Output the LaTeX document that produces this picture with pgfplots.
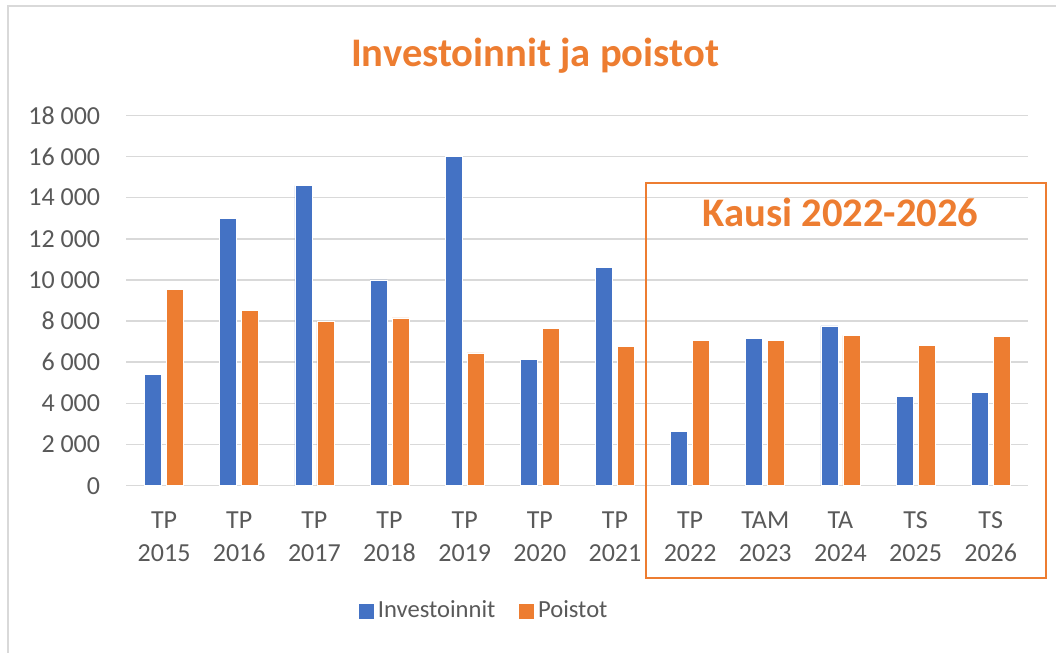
\documentclass[border=0pt]{standalone}
\usepackage{pgfplots}
\pgfplotsset{compat=1.18}
\usepackage{fontspec}
\setmainfont{Carlito}
\definecolor{cblue}{HTML}{4472C4}
\definecolor{corange}{HTML}{ED7D31}
\definecolor{ctext}{HTML}{595959}
\definecolor{cgrid}{HTML}{D9D9D9}
\begin{document}
\begin{tikzpicture}
\useasboundingbox (-63.25pt,-83.65pt) rectangle (464.75pt,242.85pt);
\draw[cgrid,line width=1pt] (-59.25pt,-83.65pt) -- (-59.25pt,239.85pt) -- (464.75pt,239.85pt);
\begin{axis}[
  scale only axis,
  width=450.9pt, height=185.2pt,
  xmin=-0.5, xmax=11.5,
  ymin=0, ymax=18000,
  ytick={0,2000,...,18000},
  xtick={0,...,11},
  xticklabels={{TP\\2015},{TP\\2016},{TP\\2017},{TP\\2018},{TP\\2019},{TP\\2020},{TP\\2021},{TP\\2022},{TAM\\2023},{TA\\2024},{TS\\2025},{TS\\2026}},
  scaled y ticks=false,
  /pgf/number format/.cd, 1000 sep={\ }, assume math mode=true,
  /pgfplots/.cd,
  ymajorgrids,
  grid style={cgrid, line width=0.75pt},
  axis line style={draw=none},
  major tick length=0pt,
  tick label style={font=\fontsize{13}{16.5}\selectfont, text=ctext},
  xticklabel style={align=center, anchor=north, inner sep=0pt, yshift=-12.8pt},
  yticklabel style={anchor=east, inner sep=0pt, xshift=-13pt},
  ybar, bar width=8.5pt,
  clip=false,
  legend columns=2,
  legend style={at={(0.398,-0.338)}, anchor=center, draw=none, fill=none,
    font=\fontsize{12.3}{15}\selectfont, text=ctext,
    /tikz/every even column/.append style={column sep=10pt}},
  legend cell align=left,
]
\addplot[fill=cblue, draw=white, line width=0.3pt, bar shift=-5.5pt,
  legend image code/.code={\fill[cblue] (0pt,-3.5pt) rectangle (7pt,3.5pt);}]
  coordinates {(0,5400) (1,13000) (2,14580) (3,10000) (4,16000) (5,6150) (6,10600) (7,2650) (8,7140) (9,7770) (10,4350) (11,4530)};
\addplot[fill=corange, draw=white, line width=0.3pt, bar shift=5.5pt,
  legend image code/.code={\fill[corange] (0pt,-3.5pt) rectangle (7pt,3.5pt);}]
  coordinates {(0,9550) (1,8500) (2,8000) (3,8150) (4,6450) (5,7630) (6,6780) (7,7070) (8,7060) (9,7310) (10,6810) (11,7250)};
\legend{Investoinnit, Poistot}
\draw[corange, line width=1.1pt] (axis cs:6.409,14723) rectangle (axis cs:11.735,-4470);
\end{axis}
\node[anchor=base, text=corange, font=\fontsize{20.3}{24}\selectfont\bfseries, inner sep=0pt] at (204.25pt,209.5pt) {Investoinnit ja poistot};
\node[anchor=base, text=corange, font=\fontsize{20.3}{24}\selectfont\bfseries, inner sep=0pt] at (357pt,129.5pt) {Kausi 2022-2026};
\end{tikzpicture}
\end{document}
